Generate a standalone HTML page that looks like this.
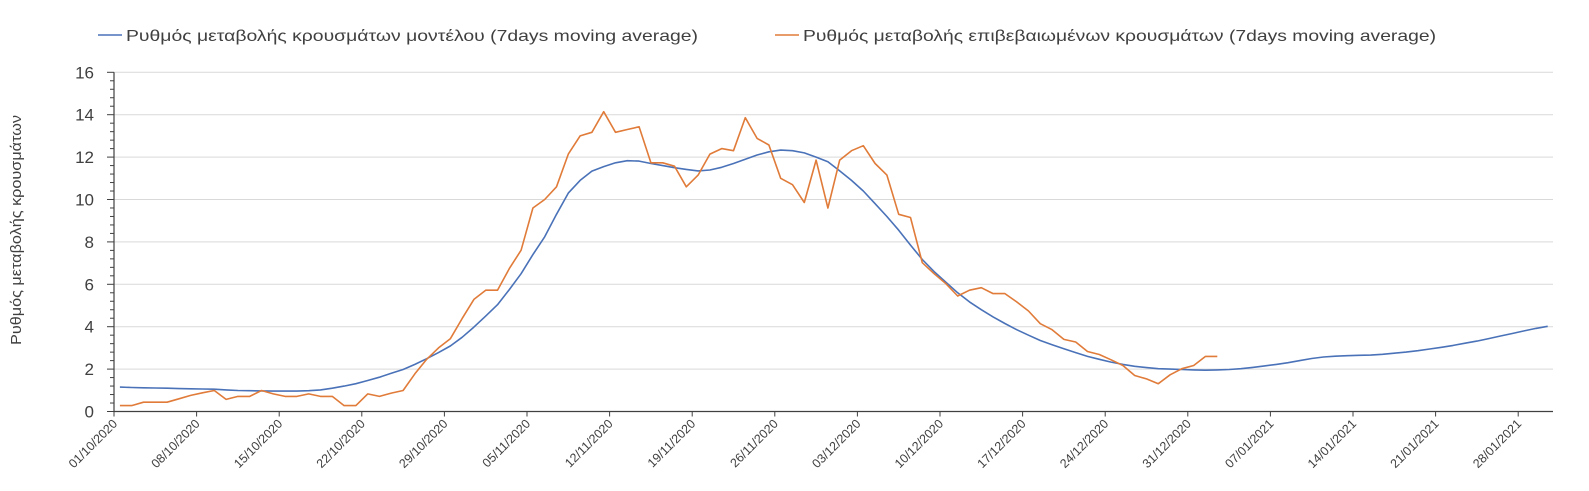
<!DOCTYPE html>
<html><head><meta charset="utf-8"><style>
body{margin:0;background:#fff;}
svg{display:block;font-family:"Liberation Sans",sans-serif;}
</style></head><body>
<svg id="chart" width="1589" height="491" viewBox="0 0 1589 491">
<g>
 <g>
  <line x1="98" y1="35" x2="122" y2="35" stroke="#4a72b8" stroke-width="1.5"/>
  <text x="126" y="41" font-size="16" textLength="572" lengthAdjust="spacingAndGlyphs" fill="#404040">Ρυθμός μεταβολής κρουσμάτων μοντέλου (7days moving average)</text>
 </g>
 <g>
  <line x1="775" y1="35" x2="799" y2="35" stroke="#e07b39" stroke-width="1.5"/>
  <text x="803" y="41" font-size="16" textLength="633" lengthAdjust="spacingAndGlyphs" fill="#404040">Ρυθμός μεταβολής επιβεβαιωμένων κρουσμάτων (7days moving average)</text>
 </g>
</g>
<text transform="translate(21,230) rotate(-90)" text-anchor="middle" font-size="15" textLength="230" lengthAdjust="spacingAndGlyphs" fill="#404040">Ρυθμός μεταβολής κρουσμάτων</text>
<g id="grid"></g><g id="axes"></g><g id="series"></g>
</svg>
<script>
const yTicks=[0,2,4,6,8,10,12,14,16];
const dateLabels=["01/10/2020","08/10/2020","15/10/2020","22/10/2020","29/10/2020","05/11/2020","12/11/2020","19/11/2020","26/11/2020","03/12/2020","10/12/2020","17/12/2020","24/12/2020","31/12/2020","07/01/2021","14/01/2021","21/01/2021","28/01/2021"];
const modelSeries=[1.15,1.13,1.12,1.11,1.1,1.08,1.07,1.06,1.05,1.02,0.99,0.98,0.97,0.96,0.96,0.96,0.98,1.02,1.1,1.2,1.31,1.46,1.62,1.8,1.98,2.22,2.49,2.78,3.09,3.5,3.98,4.5,5.04,5.75,6.5,7.4,8.24,9.3,10.3,10.9,11.34,11.55,11.73,11.83,11.81,11.7,11.6,11.5,11.42,11.35,11.39,11.52,11.7,11.9,12.1,12.25,12.33,12.3,12.2,12.0,11.78,11.35,10.9,10.4,9.8,9.2,8.55,7.85,7.17,6.6,6.1,5.6,5.17,4.8,4.46,4.15,3.86,3.6,3.35,3.15,2.96,2.78,2.6,2.46,2.33,2.22,2.13,2.07,2.02,2.0,1.98,1.96,1.95,1.96,1.98,2.02,2.08,2.15,2.22,2.3,2.4,2.5,2.57,2.61,2.63,2.65,2.66,2.7,2.75,2.8,2.87,2.95,3.03,3.12,3.22,3.32,3.44,3.56,3.68,3.8,3.92,4.02];
const confirmedSeries=[0.28,0.28,0.44,0.44,0.44,0.6,0.76,0.88,0.99,0.57,0.71,0.71,0.99,0.83,0.71,0.71,0.83,0.71,0.71,0.28,0.28,0.83,0.71,0.87,0.99,1.78,2.46,3.0,3.43,4.38,5.29,5.72,5.72,6.74,7.61,9.6,10.0,10.6,12.14,13.0,13.17,14.14,13.17,13.3,13.43,11.73,11.73,11.57,10.6,11.15,12.14,12.4,12.3,13.86,12.88,12.57,11.0,10.7,9.86,11.86,9.6,11.86,12.3,12.54,11.7,11.15,9.3,9.15,7.02,6.5,6.03,5.45,5.72,5.84,5.56,5.56,5.17,4.74,4.14,3.86,3.4,3.28,2.83,2.69,2.44,2.17,1.7,1.54,1.31,1.73,2.02,2.17,2.6,2.6];

const NS="http://www.w3.org/2000/svg";
const X0=114, DAY=11.8, Y0=411.5, PXU=21.2, XR=1553;
function xDay(d){return X0+d*DAY;}
function xPt(i){return X0+(i+0.5)*DAY;}
function yV(v){return Y0-v*PXU;}
function mk(tag,attrs,parent){const e=document.createElementNS(NS,tag);for(const k in attrs)e.setAttribute(k,attrs[k]);parent.appendChild(e);return e;}
const grid=document.getElementById('grid'),axes=document.getElementById('axes'),series=document.getElementById('series');

yTicks.forEach(v=>{
  if(v>0){const g=mk('line',{x1:X0,x2:XR,y1:yV(v),y2:yV(v),stroke:'#d9d9d9','stroke-width':1},grid);
  
  }
  const t=mk('text',{x:94,y:yV(v)+6,'text-anchor':'end','font-size':17,fill:'#404040'},axes);
  t.textContent=v;
  
  
});
for(let v=0;v<=16.001;v+=0.4){
  const major=Math.abs(v/2-Math.round(v/2))<0.01;
  mk('line',{x1:major?X0-7:X0-4,x2:X0,y1:yV(v),y2:yV(v),stroke:'#404040','stroke-width':1},axes);
}
const ya=mk('line',{x1:X0,x2:X0,y1:yV(16),y2:Y0,stroke:'#404040','stroke-width':1.2},axes);


const xa=mk('line',{x1:X0,x2:XR,y1:Y0,y2:Y0,stroke:'#404040','stroke-width':1.2},axes);


dateLabels.forEach((lab,k)=>{
  const x=xDay(k*7);
  mk('line',{x1:x,x2:x,y1:Y0,y2:Y0+5,stroke:'#404040','stroke-width':1},axes);
  const t=mk('text',{transform:`translate(${x+4},${Y0+13}) rotate(-45)`,'text-anchor':'end','font-size':12.5,fill:'#404040'},axes);
  t.textContent=lab;
  
  
});
function line(data,color,name){
  const d=data.map((v,i)=>(i?'L':'M')+xPt(i).toFixed(1)+','+yV(v).toFixed(1)).join('');
  const p=mk('path',{d:d,fill:'none',stroke:color,'stroke-width':1.6,'stroke-linejoin':'round'},series);
  
  
}
line(modelSeries,'#4a72b8','model-series-line');
line(confirmedSeries,'#e07b39','confirmed-series-line');
</script>
</body></html>
